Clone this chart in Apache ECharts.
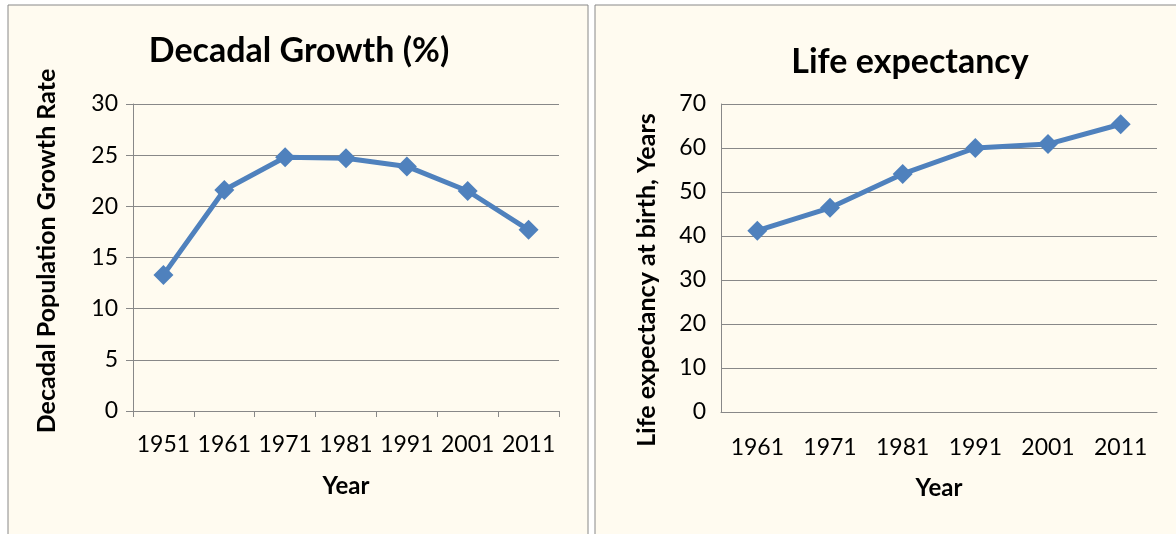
<!DOCTYPE html>
<html>
<head>
<meta charset="utf-8">
<script src="https://cdn.jsdelivr.net/npm/echarts@6/dist/echarts.min.js"></script>
<style>
  html, body { margin: 0; padding: 0; background: #fff; }
  #chart { width: 1176px; height: 534px; }
</style>
</head>
<body>
<div id="chart"></div>
<script>
// decadal growth chart
const growthYears = ["1951", "1961", "1971", "1981", "1991", "2001", "2011"];
const growthRate = [13.3, 21.6, 24.8, 24.7, 23.9, 21.5, 17.7];
// life expectancy chart
const lifeYears = ["1961", "1971", "1981", "1991", "2001", "2011"];
const lifeExpectancy = [41.2, 46.4, 54.1, 60.0, 60.9, 65.4];

const FONT = "Lato, Carlito, 'Open Sans', sans-serif";
const GREY = "#888888";
const BLUE = "#4F81BD";

const chart = echarts.init(document.getElementById("chart"));

const labelStyle = { color: "#000", fontSize: 23, fontFamily: FONT };
const nameStyle = { color: "#000", fontSize: 24, fontWeight: "bold", fontFamily: FONT };

let option = {
  backgroundColor: "#ffffff",
  animation: false,
  graphic: [
    // panel frames
    { type: "rect", z: -10, shape: { x: 8, y: 5, width: 580, height: 560 },
      style: { fill: "#FFFBF0", stroke: GREY, lineWidth: 1 } },
    { type: "rect", z: -10, shape: { x: 595, y: 5, width: 600, height: 560 },
      style: { fill: "#FFFBF0", stroke: GREY, lineWidth: 1 } },
    // titles
    { type: "text", x: 299, y: 51,
      style: { text: "Decadal Growth (%)", fill: "#000", font: "bold 34px " + FONT,
        align: "center", verticalAlign: "middle" } },
    { type: "text", x: 910, y: 62,
      style: { text: "Life expectancy", fill: "#000", font: "bold 34px " + FONT,
        align: "center", verticalAlign: "middle" } },
    // y axis names
    { type: "text", x: 47, y: 251, rotation: Math.PI / 2,
      style: { text: "Decadal Population Growth Rate", fill: "#000",
        font: "bold 25px " + FONT, align: "center", verticalAlign: "middle" } },
    { type: "text", x: 647, y: 280, rotation: Math.PI / 2,
      style: { text: "Life expectancy at birth, Years", fill: "#000",
        font: "bold 25px " + FONT, align: "center", verticalAlign: "middle" } }
  ],
  grid: [
    { left: 133, right: 617, top: 104, bottom: 123 },
    { left: 721, right: 19, top: 104, bottom: 122 }
  ],
  xAxis: [
    {
      gridIndex: 0, type: "category", data: growthYears, boundaryGap: true,
      name: "Year", nameLocation: "middle", nameGap: 63, nameTextStyle: nameStyle,
      axisLine: { lineStyle: { color: GREY, width: 1 } },
      axisTick: { show: true, length: 6, lineStyle: { color: GREY } },
      axisLabel: Object.assign({ margin: 22, interval: 0 }, labelStyle)
    },
    {
      gridIndex: 1, type: "category", data: lifeYears, boundaryGap: true,
      name: "Year", nameLocation: "middle", nameGap: 64, nameTextStyle: nameStyle,
      axisLine: { lineStyle: { color: GREY, width: 1 } },
      axisTick: { show: false },
      axisLabel: Object.assign({ margin: 24, interval: 0 }, labelStyle)
    }
  ],
  yAxis: [
    {
      gridIndex: 0, type: "value", min: 0, max: 30, interval: 5,
      axisLine: { show: true, lineStyle: { color: GREY, width: 1 } },
      axisTick: { show: true, length: 7, lineStyle: { color: GREY } },
      splitLine: { lineStyle: { color: GREY, width: 1 } },
      axisLabel: Object.assign({ margin: 15 }, labelStyle)
    },
    {
      gridIndex: 1, type: "value", min: 0, max: 70, interval: 10,
      axisLine: { show: true, lineStyle: { color: GREY, width: 1 } },
      axisTick: { show: false },
      splitLine: { lineStyle: { color: GREY, width: 1 } },
      axisLabel: Object.assign({ margin: 15 }, labelStyle)
    }
  ],
  series: [
    {
      type: "line", xAxisIndex: 0, yAxisIndex: 0, data: growthRate,
      symbol: "diamond", symbolSize: 20,
      lineStyle: { color: BLUE, width: 5 },
      itemStyle: { color: BLUE }
    },
    {
      type: "line", xAxisIndex: 1, yAxisIndex: 1, data: lifeExpectancy,
      symbol: "diamond", symbolSize: 20,
      lineStyle: { color: BLUE, width: 5 },
      itemStyle: { color: BLUE }
    }
  ]
};

chart.setOption(option, true);
</script>
</body>
</html>
